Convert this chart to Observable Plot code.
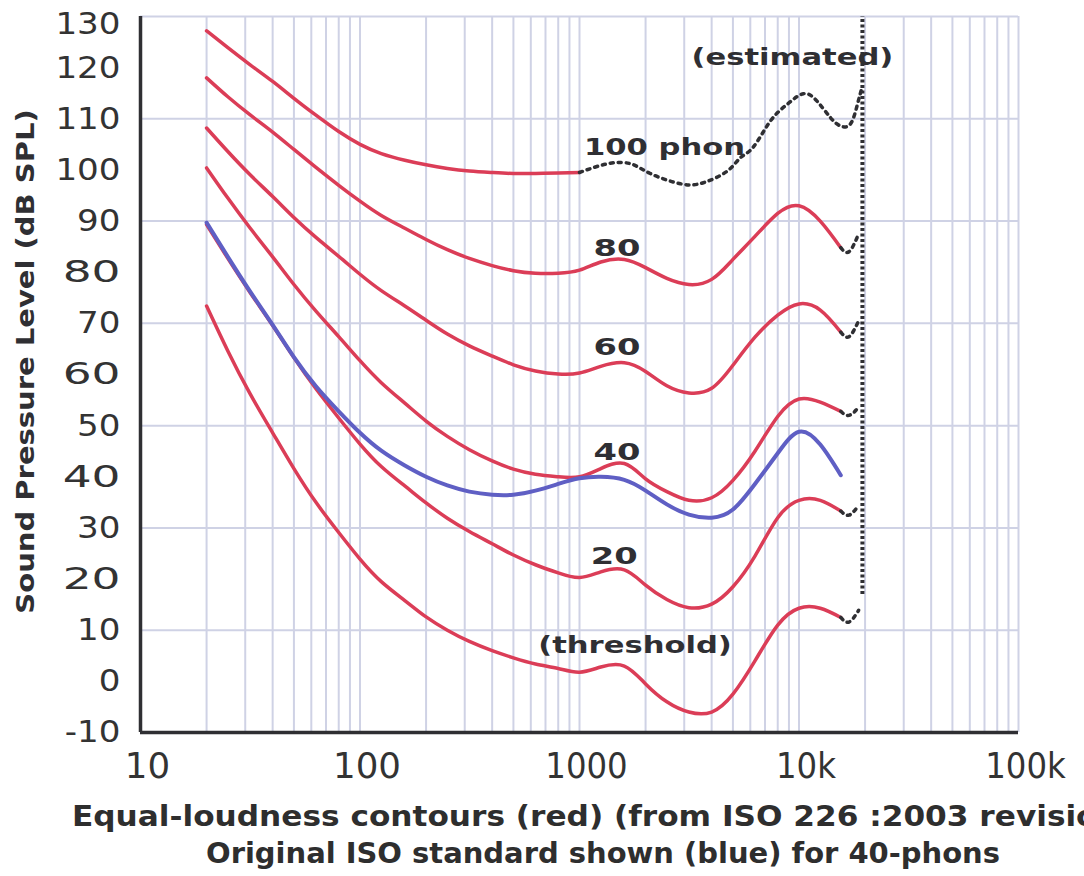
<!DOCTYPE html>
<html><head><meta charset="utf-8">
<script src="https://cdn.jsdelivr.net/npm/d3@7"></script>
<script src="https://cdn.jsdelivr.net/npm/@observablehq/plot@0.6"></script>
<style>
html,body{margin:0;padding:0;background:#fff;overflow:hidden;width:1084px;height:876px}
#chart{position:relative;width:1084px;height:876px;overflow:hidden}
.cap{position:absolute;white-space:nowrap;font-family:"DejaVu Sans Condensed","DejaVu Sans",sans-serif;font-stretch:condensed;font-weight:bold;color:#2e2e2e;font-size:28px;line-height:1;transform-origin:left center}
</style></head><body><div id="chart"></div>
<script>
// ---- data ----
const freqs = [20, 25, 31.5, 40, 50, 63, 80, 100, 125, 160, 200, 250, 315, 400, 500, 630, 800, 1000, 1250, 1600, 2000, 2500, 3150, 4000, 5000, 6300, 8000, 10000, 12500, 15500];
const threshold = [73.4, 64.6, 56.3, 48.6, 41.6, 35.0, 29.1, 23.9, 19.5, 15.8, 12.6, 10.0, 7.8, 6.0, 4.6, 3.4, 2.5, 1.8, 2.8, 3.0, -0.5, -4.0, -6.0, -6.0, -2.5, 4.0, 11.0, 14.3, 14.3, 12.5];
const phon20 = [89.3, 82.7, 76.1, 69.6, 63.3, 57.2, 51.5, 46.4, 42.0, 38.2, 34.9, 31.9, 29.3, 26.9, 24.7, 22.8, 21.2, 20.3, 21.4, 21.8, 18.8, 16.0, 14.4, 15.1, 18.5, 24.5, 32.0, 35.4, 35.4, 33.3];
const phon40 = [100.4, 94.5, 88.7, 83.0, 77.6, 72.4, 67.4, 62.7, 58.4, 54.4, 50.9, 47.9, 45.3, 43.1, 41.5, 40.5, 40.0, 40.0, 41.6, 42.6, 39.6, 37.1, 35.4, 35.9, 39.3, 45.0, 51.8, 55.2, 54.6, 52.8];
const phon60 = [108.2, 103.6, 99.1, 94.8, 90.7, 86.8, 83.1, 79.6, 76.4, 73.4, 70.6, 67.9, 65.6, 63.6, 61.9, 60.7, 60.1, 60.3, 61.6, 62.3, 60.6, 57.8, 56.4, 57.3, 61.8, 67.3, 71.6, 73.8, 72.6, 68.3];
const phon80 = [118.0, 114.3, 110.8, 107.4, 104.0, 100.5, 97.0, 93.9, 91.1, 88.6, 86.4, 84.4, 82.7, 81.3, 80.3, 79.8, 79.8, 80.4, 82.0, 82.5, 80.9, 78.8, 77.6, 78.6, 82.5, 87.0, 91.5, 93.0, 90.0, 84.8];
const original40 = [89.7, 83.0, 76.3, 69.7, 63.4, 57.7, 52.8, 48.6, 45.1, 42.2, 40.0, 38.3, 37.1, 36.5, 36.5, 37.3, 38.6, 39.7, 40.0, 39.4, 37.3, 34.6, 32.6, 32.0, 33.6, 38.6, 44.6, 48.8, 46.3, 40.3];
const freqs100 = [20, 25, 31.5, 40, 50, 63, 80, 100, 125, 160, 200, 250, 315, 400, 500, 630, 800, 1000];
const phon100 = [127.2, 123.9, 120.6, 117.3, 114.0, 110.7, 107.5, 105.0, 103.2, 101.9, 101.0, 100.3, 99.8, 99.5, 99.3, 99.3, 99.4, 99.5];
const estFreqs100 = [1000, 1340, 1710, 2100, 2880, 3670, 4720, 5410, 6200, 7420, 8870, 10480, 12050, 13930, 15450, 17170, 18480, 19450];
const est100 = [99.5, 101.2, 101.2, 99.3, 97.3, 97.5, 99.8, 102.4, 104.5, 109.6, 112.9, 114.9, 113.5, 110.2, 108.6, 109.0, 112.9, 116.4];
const tailFreqs = [15500, 16900, 18700];
const tail80 = [84.8, 84.0, 87.5];
const tail60 = [68.3, 67.4, 70.5];
const tail40 = [52.8, 52.0, 53.6];
const tail20 = [33.3, 32.5, 34.4];
const tailThreshold = [12.5, 11.6, 13.9];
const edgeFreq = 19450;
const edgeLow = 17, edgeHigh = 130;
const gridFreqs = [10,20,30,40,50,60,70,80,90,100,200,300,400,500,600,700,800,900,1000,2000,3000,4000,5000,6000,7000,8000,9000,10000,20000,30000,40000,50000,60000,70000,80000,90000,100000];
const gridLevels = [10, 30, 50, 70, 90, 110, 130];
const yTicks = [-10, 0, 10, 20, 30, 40, 50, 60, 70, 80, 90, 100, 110, 120];
const yTopTick = [130];
const xTicks = [10, 100, 1000, 10000, 100000];
const xTickLabels = ["10", "100", "1000", "10k", "100k"];
const labelTexts = ["(estimated)", "100 phon", "80", "60", "40", "20", "(threshold)"];
const labelFreqs = [9330, 2440, 1480, 1480, 1480, 1440, 1790];
const labelLevels = [121.9, 104.3, 84.6, 65.2, 44.8, 24.3, 6.9];
const yTitle = "Sound Pressure Level (dB SPL)";
const captionLines = ["Equal-loudness contours (red) (from ISO 226 :2003 revision)", "Original ISO standard shown (blue) for 40-phons"];

// ---- tables built from the arrays ----
const rows = (name, fs, vs) => fs.map((f, i) => ({curve: name, f, db: vs[i]}));
const redRows = [
  ...rows("threshold", freqs, threshold), ...rows("20", freqs, phon20), ...rows("40", freqs, phon40),
  ...rows("60", freqs, phon60), ...rows("80", freqs, phon80), ...rows("100", freqs100, phon100)
];
const blueRows = rows("orig40", freqs, original40);
const dotRows = [
  ...rows("e100", estFreqs100, est100), ...rows("e80", tailFreqs, tail80), ...rows("e60", tailFreqs, tail60),
  ...rows("e40", tailFreqs, tail40), ...rows("e20", tailFreqs, tail20), ...rows("eT", tailFreqs, tailThreshold)
];
const labels = labelTexts.map((t, i) => ({t, f: labelFreqs[i], db: labelLevels[i]}));

const grid = "#cfd2e5", ink = "#2f2f33";
const yAxisOpts = {tickSize: 0, tickPadding: 20, fontSize: 31, fontFamily: "DejaVu Sans", fill: "#333", label: null, tickFormat: (d) => String(d)};
const plot = Plot.plot({
  width: 1084, height: 800,
  marginLeft: 140, marginRight: 66, marginTop: 16, marginBottom: 68,
  x: {type: "log", domain: [10, 100000]},
  y: {domain: [-10, 130]},
  style: {background: "white", overflow: "visible"},
  marks: [
    Plot.ruleX(gridFreqs, {stroke: grid, strokeWidth: 2}),
    Plot.ruleY(gridLevels, {stroke: grid, strokeWidth: 2}),
    Plot.line(redRows, {x: "f", y: "db", z: "curve", stroke: "#db3d57", strokeWidth: 3.5, curve: "natural"}),
    Plot.line(blueRows, {x: "f", y: "db", stroke: "#5f5fc4", strokeWidth: 4, curve: "natural"}),
    Plot.line(dotRows, {x: "f", y: "db", z: "curve", stroke: ink, strokeWidth: 3.5, strokeDasharray: "3,5", curve: "natural"}),
    Plot.ruleX([edgeFreq], {y1: edgeLow, y2: edgeHigh, stroke: ink, strokeWidth: 4, strokeDasharray: "3,2.5"}),
    Plot.ruleX([10], {stroke: ink, strokeWidth: 3.5}),
    Plot.ruleY([-10], {stroke: ink, strokeWidth: 3.5}),
    Plot.axisY(yTicks, yAxisOpts),
    Plot.axisY(yTopTick, {...yAxisOpts, dy: 8}),
    Plot.axisX(xTicks, {tickSize: 0, tickPadding: 20, dx: 7, fontSize: 36, fontFamily: "DejaVu Sans Condensed, DejaVu Sans", fill: "#333", label: null,
      tickFormat: (d) => xTickLabels[xTicks.indexOf(d)]}),
    Plot.text(labels, {x: "f", y: "db", text: "t", fontSize: 23, fontWeight: "bold", fontFamily: "DejaVu Sans", fill: ink}),
    Plot.text([yTitle], {frameAnchor: "left", textAnchor: "middle", rotate: -90, dx: -115, dy: -13, fontSize: 25, fontWeight: "bold", fontFamily: "DejaVu Sans", fill: ink})
  ]
});
document.getElementById("chart").appendChild(plot);

// stretch glyphs along the text direction (the reference lettering is wider than the stock font)
function stretchWhere(test, k) {
  plot.querySelectorAll("text").forEach((el) => {
    if (!test(el.textContent)) return;
    const len = el.getComputedTextLength();
    el.setAttribute("textLength", (len * k).toFixed(1));
    el.setAttribute("lengthAdjust", "spacingAndGlyphs");
  });
}
stretchWhere((t) => labelTexts.includes(t), 1.33);
stretchWhere((t) => t === yTitle, 1.16);
stretchWhere((t) => [...yTicks, ...yTopTick].map(String).includes(t), 1.1);

// caption below the svg (the first line runs past the right edge, as in the reference)
const c = document.getElementById("chart");
const lefts = [72, 206], tops = [803, 840], widths = [1062, 794];
captionLines.forEach((t, i) => {
  const d = document.createElement("div");
  d.className = "cap"; d.textContent = t;
  d.style.left = lefts[i] + "px"; d.style.top = tops[i] + "px";
  c.appendChild(d);
  const w = d.getBoundingClientRect().width;
  d.style.transform = `scaleX(${widths[i] / w})`;
});
</script></body></html>
